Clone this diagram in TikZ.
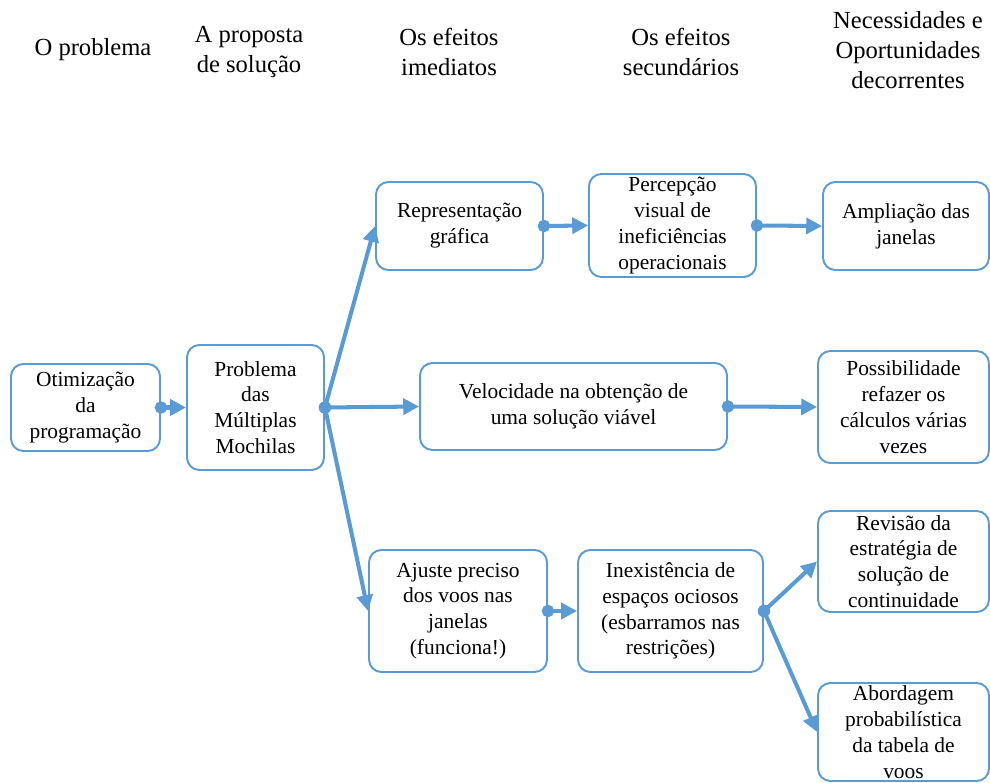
\documentclass[tikz,border=0pt]{standalone}
\usepackage{fontspec}
\setmainfont{Liberation Serif}
\usetikzlibrary{arrows.meta}
\definecolor{linkblue}{HTML}{5B9BD5}
\tikzset{
  box/.style={draw=linkblue, line width=1.1pt, rounded corners=7pt, align=center,
    inner sep=1pt, font=\fontsize{12.2}{14.7}\selectfont},
  head/.style={align=center, font=\fontsize{14}{17}\selectfont},
  link/.style={draw=linkblue, line width=2.3pt,
    {Circle[length=7pt]}-{Triangle[length=9pt,width=9pt]}, shorten <=-3.5pt},
}
\begin{document}
\begin{tikzpicture}[x=0.02cm,y=-0.02cm]
      \useasboundingbox (0,0) rectangle (990,783);
      % column titles
      \draw
        (93,50) node[head] (h1){O problema}
        (249,52) node[head] (h2){A proposta\\de solução}
        (449,52) node[head] (h3){Os efeitos\\imediatos}
        (681,52) node[head] (h4){Os efeitos\\secundários}
        (908,50) node[head] (h5){Necessidades e\\Oportunidades\\decorrentes};
      % boxes
      \draw
        (85.5,407.5) node[box, minimum width=2.98cm, minimum height=1.74cm] (otim){Otimização\\da\\programação}
        (255.5,407.5) node[box, minimum width=2.74cm, minimum height=2.5cm] (prob){Problema\\das\\Múltiplas\\Mochilas}
        (459.5,226) node[box, minimum width=3.34cm, minimum height=1.76cm] (repr){Representação\\gráfica}
        (672.5,225.5) node[box, minimum width=3.34cm, minimum height=2.06cm] (perc){Percepção\\visual de\\ineficiências\\operacionais}
        (906,226) node[box, minimum width=3.32cm, minimum height=1.76cm] (ampl){Ampliação das\\janelas}
        (573.5,406.5) node[box, minimum width=6.14cm, minimum height=1.74cm] (velo){Velocidade na obtenção de\\uma solução viável}
        (903.5,407) node[box, minimum width=3.42cm, minimum height=2.24cm] (poss){Possibilidade\\refazer os\\cálculos várias\\vezes}
        (458,611) node[box, minimum width=3.56cm, minimum height=2.44cm] (ajus){Ajuste preciso\\dos voos nas\\janelas\\(funciona!)}
        (670.5,611) node[box, minimum width=3.7cm, minimum height=2.44cm] (inex){Inexistência de\\espaços ociosos\\(esbarramos nas\\restrições)}
        (903.5,561.5) node[box, minimum width=3.42cm, minimum height=2.02cm] (revi){Revisão da\\estratégia de\\solução de\\continuidade}
        (903.5,732) node[box, minimum width=3.42cm, minimum height=1.96cm] (abor){Abordagem\\probabilística\\da tabela de\\voos};
      \begin{scope}[link]
        \draw (otim.east) to (prob.west);
        \draw (prob.east) to (repr.west);
        \draw (prob.east) to (velo.west);
        \draw (prob.east) to (ajus.west);
        \draw (repr.east) to (perc.west);
        \draw (perc.east) to (ampl.west);
        \draw (velo.east) to (poss.west);
        \draw (ajus.east) to (inex.west);
        \draw (inex.east) to (revi.west);
        \draw (inex.east) to (abor.west);
      \end{scope}
    \end{tikzpicture}
\end{document}
